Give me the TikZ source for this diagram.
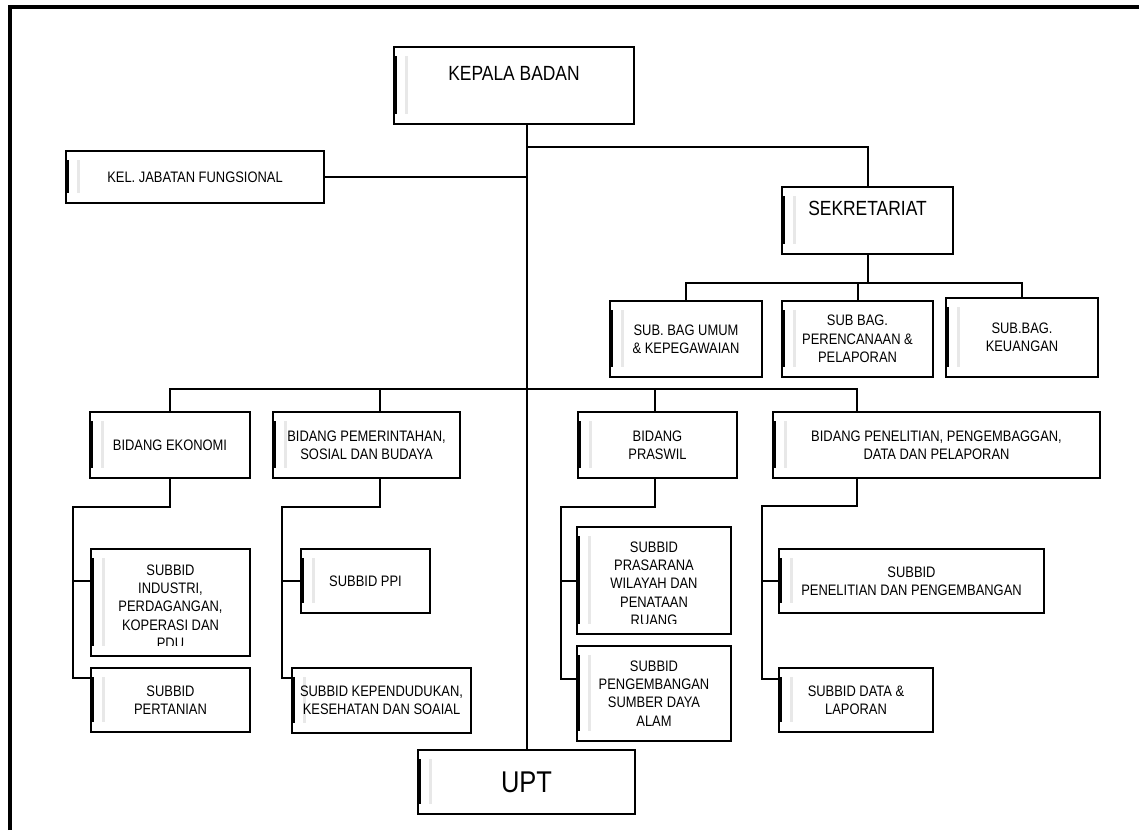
\documentclass[tikz,border=0pt]{standalone}
\usepackage{fontspec}
\setmainfont{Liberation Sans}[FakeStretch=0.85]
\usepackage{tikz}

\begin{document}
\begin{tikzpicture}[x=1pt, y=-1pt, line width=2pt,
    box/.style={draw, line width=1.8pt, inner sep=0pt, align=center,
      font=\fontsize{15.2}{18.3}\selectfont,
      path picture={
        \fill[black] ([xshift=0.8pt,yshift=-9pt]path picture bounding box.north west)
          rectangle ([xshift=3.4pt,yshift=10pt]path picture bounding box.south west);
        \fill[black!9] ([xshift=11pt,yshift=-9pt]path picture bounding box.north west)
          rectangle ([xshift=14pt,yshift=10pt]path picture bounding box.south west);}},
    bigbox/.style={box, font=\fontsize{20.5}{24}\selectfont},
    txt/.style={inner sep=0pt, align=center, anchor=north,
      font=\fontsize{15.2}{18.3}\selectfont}]
    \useasboundingbox (0,0) rectangle (1139,830);
    \draw[line width=4pt] (9.5,830) -- (9.5,7) -- (1139,7);
    % top
    \node[bigbox, minimum width=240pt, minimum height=77pt] at (514, 85.5) (kb)
      {KEPALA BADAN\\ \mbox{}};
    \node[box, minimum width=258pt, minimum height=52pt] at (195, 177) (kjf)
      {KEL. JABATAN FUNGSIONAL};
    \node[bigbox, minimum width=171pt, minimum height=67pt] at (867.5, 220.5) (sk)
      {SEKRETARIAT\\ \mbox{}};
    \node[box, minimum width=152pt, minimum height=76pt] at (686, 339) (sbu)
      {SUB. BAG UMUM\\\& KEPEGAWAIAN};
    \node[box, minimum width=151pt, minimum height=76pt] at (857.5, 339) (sbp)
      {SUB BAG.\\PERENCANAAN \&\\PELAPORAN};
    \node[box, minimum width=152pt, minimum height=79pt] at (1022, 337.5) (sbk)
      {SUB.BAG.\\KEUANGAN};
    % bidang
    \node[box, minimum width=160pt, minimum height=66pt] at (170, 445) (bek)
      {BIDANG EKONOMI};
    \node[box, minimum width=187pt, minimum height=66pt] at (366.5, 445) (bps)
      {BIDANG PEMERINTAHAN,\\SOSIAL DAN BUDAYA};
    \node[box, minimum width=159pt, minimum height=66pt] at (657.5, 445) (bpw)
      {BIDANG\\PRASWIL};
    \node[box, minimum width=327pt, minimum height=66pt] at (936.5, 445) (bpp)
      {BIDANG PENELITIAN, PENGEMBAGGAN,\\DATA DAN PELAPORAN};
    % subbid
    \node[box, minimum width=159pt, minimum height=107pt] at (170.5, 602.5) (sind) {};
    \begin{scope}
      \clip (sind.north west) rectangle ([yshift=11pt]sind.south east);
      \node[txt] at ([yshift=-15.5pt]sind.north) (sindt)
        {SUBBID\\INDUSTRI,\\PERDAGANGAN,\\KOPERASI DAN\\PDU};
    \end{scope}
    \node[box, minimum width=159pt, minimum height=64pt] at (170.5, 700) (stn)
      {SUBBID\\PERTANIAN};
    \node[box, minimum width=129pt, minimum height=64pt] at (365.5, 581) (sppi)
      {SUBBID PPI};
    \node[box, minimum width=179pt, minimum height=65pt] at (381.5, 700.5) (skp)
      {SUBBID KEPENDUDUKAN,\\KESEHATAN DAN SOAIAL};
    \node[box, minimum width=154pt, minimum height=107pt] at (654, 580.5) (spw) {};
    \begin{scope}
      \clip (spw.north west) rectangle ([yshift=11pt]spw.south east);
      \node[txt] at ([yshift=-14.5pt]spw.north) (spwt)
        {SUBBID\\PRASARANA\\WILAYAH DAN\\PENATAAN\\RUANG};
    \end{scope}
    \node[box, minimum width=154pt, minimum height=95pt] at (654, 693.5) (ssda)
      {SUBBID\\PENGEMBANGAN\\SUMBER DAYA\\ALAM};
    \node[box, minimum width=265pt, minimum height=64pt] at (911.5, 581) (spp)
      {SUBBID\\PENELITIAN DAN PENGEMBANGAN};
    \node[box, minimum width=154pt, minimum height=64pt] at (856, 700) (sdl)
      {SUBBID DATA \&\\LAPORAN};
    \node[box, minimum width=217pt, minimum height=64pt,
      font=\fontsize{30}{36}\selectfont] at (526.5, 782) (upt)
      {UPT};
    % lines
    \draw (upt.north |- kb.south) -- (upt.north);
    \draw (kjf.east) -- (upt.north |- kjf.east);
    \draw (upt.north |- 0,147) -| (sk.north);
    \draw (sk.south) -- (sk.south |- 0,283);
    \draw (sbu.north) |- (sbk.north |- 0,283) -- (sbk.north);
    \draw (sbp.north) -- (sbp.north |- 0,283);
    \draw (bek.north) |- (857,389) -- (bpp.north -| 857,0);
    \draw (380,389) -- (bps.north -| 380,0);
    \draw (655,389) -- (bpw.north -| 655,0);
    \draw (bek.south) |- (73,507) |- (stn.west |- 0,678);
    \draw (73,581) -- (sind.west |- 0,581);
    \draw (bps.south -| 380,0) |- (282,507) |- (skp.west |- 0,678);
    \draw (282,581) -- (sppi.west);
    \draw (bpw.south -| 655,0) |- (561,507) |- (ssda.west |- 0,679);
    \draw (561,581) -- (spw.west |- 0,581);
    \draw (bpp.south -| 857,0) |- (762,506) |- (sdl.west |- 0,679);
    \draw (762,581) -- (spp.west);
  \end{tikzpicture}
\end{document}
